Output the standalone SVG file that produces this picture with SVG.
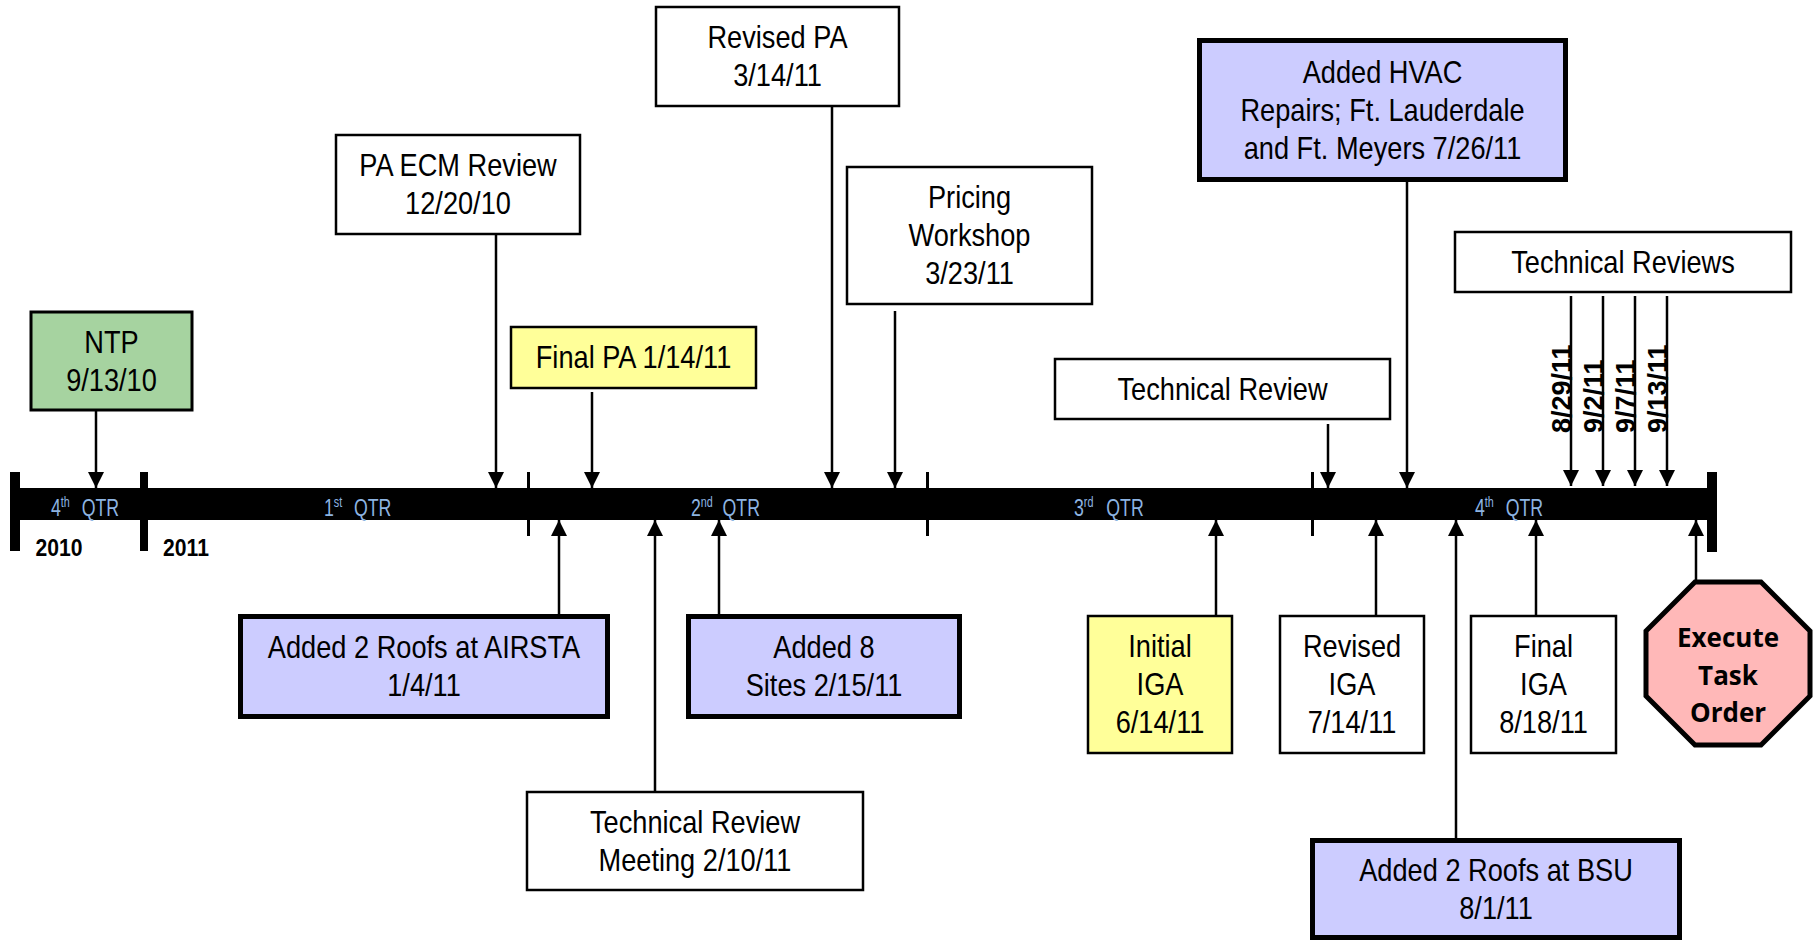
<svg xmlns="http://www.w3.org/2000/svg" width="1816" height="940" viewBox="0 0 1816 940">
<defs>
<style>
.t{font-family:"Liberation Sans",Arial,sans-serif;font-size:32px;fill:#000;text-anchor:middle}
.w{fill:#fff;stroke:#000;stroke-width:2.5}
.y{fill:#ffff99;stroke:#000;stroke-width:2.5}
.g{fill:#a6d3a0;stroke:#000;stroke-width:3}
.l{fill:#ccccff;stroke:#000;stroke-width:5}
.q{font-family:"Liberation Sans",Arial,sans-serif;font-size:23px;fill:#8db4e2}
.s{font-size:14px}
.yr{font-family:"Liberation Sans",Arial,sans-serif;font-size:24px;font-weight:bold;fill:#000;text-anchor:middle}
.d{font-family:"Liberation Sans",Arial,sans-serif;font-size:27px;font-weight:bold;fill:#000}
.c line{stroke:#000;stroke-width:2.5}
.dn{marker-end:url(#ah)}
.ex{font-family:"Open Sans","Noto Sans",sans-serif;font-size:26px;font-weight:bold;fill:#000;text-anchor:middle}
</style>
<marker id="ah" markerUnits="userSpaceOnUse" markerWidth="16" markerHeight="16" viewBox="0 0 16 16" refX="16" refY="8" orient="auto">
<path d="M0,0 L16,8 L0,16 Z" fill="#000"/>
</marker>
</defs>
<rect width="1816" height="940" fill="#fff"/>

<g id="timeline">
<rect x="20" y="488" width="1690" height="32" fill="#000"/>
<rect x="10" y="472" width="10" height="79" fill="#000"/>
<rect x="140" y="472" width="8" height="79" fill="#000"/>
<rect x="527" y="472" width="3" height="64" fill="#000"/>
<rect x="926" y="472" width="3" height="64" fill="#000"/>
<rect x="1311" y="472" width="3" height="64" fill="#000"/>
<rect x="1707" y="472" width="10" height="80" fill="#000"/>
<text class="q" transform="translate(51 0) scale(0.77 1)" x="0" y="516">4<tspan class="s" dy="-9">th</tspan><tspan x="40" dy="9">QTR</tspan></text>
<text class="q" transform="translate(324 0) scale(0.77 1)" x="0" y="516">1<tspan class="s" dy="-9">st</tspan><tspan x="39" dy="9">QTR</tspan></text>
<text class="q" transform="translate(691 0) scale(0.77 1)" x="0" y="516">2<tspan class="s" dy="-9">nd</tspan><tspan x="41" dy="9">QTR</tspan></text>
<text class="q" transform="translate(1074 0) scale(0.77 1)" x="0" y="516">3<tspan class="s" dy="-9">rd</tspan><tspan x="42" dy="9">QTR</tspan></text>
<text class="q" transform="translate(1475 0) scale(0.77 1)" x="0" y="516">4<tspan class="s" dy="-9">th</tspan><tspan x="40" dy="9">QTR</tspan></text>
<text class="yr" transform="translate(59 0) scale(0.88 1)" x="0" y="556">2010</text>
<text class="yr" transform="translate(186 0) scale(0.88 1)" x="0" y="556">2011</text>
</g>

<g id="connectors" class="c">
<line class="dn" x1="96" y1="410" x2="96" y2="488"/>
<line class="dn" x1="496" y1="234" x2="496" y2="488"/>
<line class="dn" x1="592" y1="392" x2="592" y2="488"/>
<line class="dn" x1="832" y1="106" x2="832" y2="488"/>
<line class="dn" x1="895" y1="311" x2="895" y2="488"/>
<line class="dn" x1="1328" y1="424" x2="1328" y2="488"/>
<line class="dn" x1="1407" y1="182" x2="1407" y2="488"/>
<line class="dn" x1="1571" y1="296" x2="1571" y2="486"/>
<line class="dn" x1="1603" y1="296" x2="1603" y2="486"/>
<line class="dn" x1="1635" y1="296" x2="1635" y2="486"/>
<line class="dn" x1="1667" y1="296" x2="1667" y2="486"/>
<line class="dn" x1="559" y1="614" x2="559" y2="520"/>
<line class="dn" x1="655" y1="792" x2="655" y2="520"/>
<line class="dn" x1="719" y1="614" x2="719" y2="520"/>
<line class="dn" x1="1216" y1="616" x2="1216" y2="520"/>
<line class="dn" x1="1376" y1="616" x2="1376" y2="520"/>
<line class="dn" x1="1456" y1="838" x2="1456" y2="520"/>
<line class="dn" x1="1536" y1="616" x2="1536" y2="520"/>
<line class="dn" x1="1696" y1="582" x2="1696" y2="520"/>
</g>

<g id="review-dates">
<text class="d" transform="translate(1571,433) rotate(-90)">8/29/11</text>
<text class="d" transform="translate(1603,433) rotate(-90)">9/2/11</text>
<text class="d" transform="translate(1635,433) rotate(-90)">9/7/11</text>
<text class="d" transform="translate(1667,433) rotate(-90)">9/13/11</text>
</g>

<g id="ntp"><rect class="g" x="31" y="312" width="161" height="98"/>
<g transform="translate(111.5 0) scale(0.85 1)"><text class="t" x="0" y="353">NTP</text><text class="t" x="0" y="391">9/13/10</text></g></g>

<g id="pa-ecm-review"><rect class="w" x="336" y="135" width="244" height="99"/>
<g transform="translate(458 0) scale(0.85 1)"><text class="t" x="0" y="176.5">PA ECM Review</text><text class="t" x="0" y="214.5">12/20/10</text></g></g>

<g id="final-pa"><rect class="y" x="511" y="327" width="245" height="61"/>
<g transform="translate(633.5 0) scale(0.85 1)"><text class="t" x="0" y="368.5">Final PA 1/14/11</text></g></g>

<g id="revised-pa"><rect class="w" x="656" y="7" width="243" height="99"/>
<g transform="translate(777.5 0) scale(0.85 1)"><text class="t" x="0" y="48.5">Revised PA</text><text class="t" x="0" y="86.5">3/14/11</text></g></g>

<g id="pricing-workshop"><rect class="w" x="847" y="167" width="245" height="137"/>
<g transform="translate(969.5 0) scale(0.85 1)"><text class="t" x="0" y="208.5">Pricing</text><text class="t" x="0" y="246.5">Workshop</text><text class="t" x="0" y="284.5">3/23/11</text></g></g>

<g id="technical-review"><rect class="w" x="1055" y="359" width="335" height="60"/>
<g transform="translate(1222.5 0) scale(0.85 1)"><text class="t" x="0" y="400">Technical Review</text></g></g>

<g id="added-hvac"><rect class="l" x="1199.5" y="40.5" width="366" height="139"/>
<g transform="translate(1382.5 0) scale(0.85 1)"><text class="t" x="0" y="83">Added HVAC</text><text class="t" x="0" y="121">Repairs; Ft. Lauderdale</text><text class="t" x="0" y="159">and Ft. Meyers 7/26/11</text></g></g>

<g id="technical-reviews"><rect class="w" x="1455" y="232" width="336" height="60"/>
<g transform="translate(1623 0) scale(0.85 1)"><text class="t" x="0" y="273">Technical Reviews</text></g></g>

<g id="added-airsta"><rect class="l" x="240.5" y="616.5" width="367" height="100"/>
<g transform="translate(424 0) scale(0.85 1)"><text class="t" x="0" y="658.5">Added 2 Roofs at AIRSTA</text><text class="t" x="0" y="696.5">1/4/11</text></g></g>

<g id="added-8-sites"><rect class="l" x="688.5" y="616.5" width="271" height="100"/>
<g transform="translate(824 0) scale(0.85 1)"><text class="t" x="0" y="658.5">Added 8</text><text class="t" x="0" y="696.5">Sites 2/15/11</text></g></g>

<g id="tech-review-meeting"><rect class="w" x="527" y="792" width="336" height="98"/>
<g transform="translate(695 0) scale(0.85 1)"><text class="t" x="0" y="833">Technical Review</text><text class="t" x="0" y="871">Meeting 2/10/11</text></g></g>

<g id="initial-iga"><rect class="y" x="1088" y="616" width="144" height="137"/>
<g transform="translate(1160 0) scale(0.85 1)"><text class="t" x="0" y="657.5">Initial</text><text class="t" x="0" y="695.5">IGA</text><text class="t" x="0" y="733.5">6/14/11</text></g></g>

<g id="revised-iga"><rect class="w" x="1280" y="616" width="144" height="137"/>
<g transform="translate(1352 0) scale(0.85 1)"><text class="t" x="0" y="657.5">Revised</text><text class="t" x="0" y="695.5">IGA</text><text class="t" x="0" y="733.5">7/14/11</text></g></g>

<g id="final-iga"><rect class="w" x="1471" y="616" width="145" height="137"/>
<g transform="translate(1543.5 0) scale(0.85 1)"><text class="t" x="0" y="657.5">Final</text><text class="t" x="0" y="695.5">IGA</text><text class="t" x="0" y="733.5">8/18/11</text></g></g>

<g id="added-bsu"><rect class="l" x="1312.5" y="840.5" width="367" height="97"/>
<g transform="translate(1496 0) scale(0.85 1)"><text class="t" x="0" y="881">Added 2 Roofs at BSU</text><text class="t" x="0" y="919">8/1/11</text></g></g>

<g id="execute-task-order"><polygon points="1695,582 1761,582 1810,631 1810,696 1761,745 1695,745 1646,696 1646,631" fill="#ffb8b8" stroke="#000" stroke-width="5"/>
<text class="ex" x="1728" y="647">Execute</text><text class="ex" x="1728" y="685">Task</text><text class="ex" x="1728" y="722">Order</text></g>
</svg>
